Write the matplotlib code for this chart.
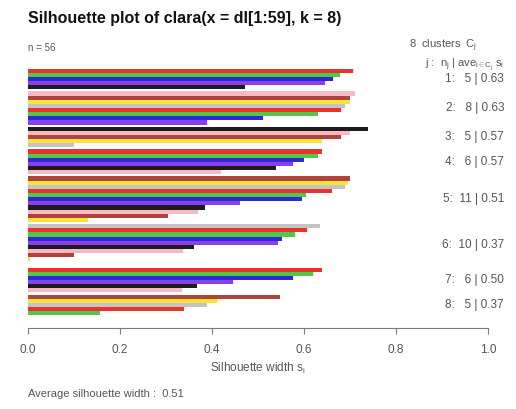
import numpy as np
import matplotlib
matplotlib.use("Agg")
import matplotlib.pyplot as plt
from matplotlib.transforms import blended_transform_factory

plt.rcParams["font.family"] = ["Liberation Sans", "DejaVu Sans"]
plt.rcParams["mathtext.fontset"] = "custom"
plt.rcParams["mathtext.rm"] = "Liberation Sans"
plt.rcParams["mathtext.it"] = "Liberation Sans"

# silhouette widths per cluster, sorted high to low within each cluster
sil_1 = [0.707, 0.678, 0.663, 0.646, 0.472]
sil_2 = [0.71, 0.70, 0.70, 0.69, 0.68, 0.63, 0.51, 0.39]
sil_3 = [0.74, 0.70, 0.68, 0.64, 0.10]
sil_4 = [0.64, 0.63, 0.60, 0.576, 0.54, 0.42]
sil_5 = [0.70, 0.696, 0.69, 0.66, 0.605, 0.595, 0.46, 0.385, 0.37, 0.305, 0.13]
sil_6 = [0.635, 0.606, 0.58, 0.552, 0.544, 0.36, 0.337, 0.10, 0.005, 0.0]
sil_7 = [0.64, 0.62, 0.577, 0.446, 0.367, 0.334]
sil_8 = [0.548, 0.41, 0.39, 0.34, 0.157]
clusters = [sil_1, sil_2, sil_3, sil_4, sil_5, sil_6, sil_7, sil_8]

bar_colors = ["#e8322c", "#52c84a", "#2a2ad6", "#8e3ee6", "#1c1c1c",
              "#f7b9c3", "#b0443a", "#f6e43c", "#c4c4c4"]

title = "Silhouette plot of clara(x = dl[1:59], k = 8)"
xticks = [0.0, 0.2, 0.4, 0.6, 0.8, 1.0]

text_col = "#555555"

fig = plt.figure(figsize=(5.16, 4.09), dpi=100)
W, H = 516, 409
y_top, y_bot = 68.6, 315.3
ax = fig.add_axes([28 / W, 1 - y_bot / H, 460 / W, (y_bot - y_top) / H])

# bar layout: unit height per bar, half-unit gap between clusters
pos, mids = 0.0, []
i = 0
for k, sil in enumerate(clusters):
    if k > 0:
        pos += 0.5
    start = pos
    for v in sil:
        ax.barh(pos + 0.5, v, height=1.0, color=bar_colors[i % len(bar_colors)],
                linewidth=0)
        pos += 1
        i += 1
    mids.append((start + pos) / 2)
total = pos

ax.set_xlim(0, 1)
ax.set_ylim(total, 0)
for s in ["top", "right", "left"]:
    ax.spines[s].set_visible(False)
ax.spines["bottom"].set_position(("outward", 9))
ax.spines["bottom"].set_bounds(0, 1)
ax.spines["bottom"].set_color("#7a7a7a")
ax.set_yticks([])
ax.set_xticks(xticks)
ax.set_xticklabels([f"{t:.1f}" for t in xticks])
ax.tick_params(axis="x", direction="out", length=4, color="#7a7a7a",
               labelsize=8.5, labelcolor=text_col, pad=8)
ax.set_xlabel("Silhouette width $s_i$", fontsize=8.5, color=text_col, labelpad=3)

fig.text(28 / W, 1 - 18 / H, title, fontsize=11.5, fontweight="bold",
         va="center", ha="left", color="#111111")
n = sum(len(c) for c in clusters)
fig.text(28 / W, 1 - 48 / H, f"n = {n}", fontsize=7, color=text_col, va="center")
fig.text(409 / W, 1 - 46 / H, f"{len(clusters)}  clusters  $C_j$", fontsize=8,
         color=text_col, va="center")
fig.text(504 / W, 1 - 65 / H, r"j :  $n_j$ | ave$_{i\in C_j}$ $s_i$", fontsize=8,
         color=text_col, va="center", ha="right")

tr = blended_transform_factory(fig.transFigure, ax.transData)
for k, (sil, m) in enumerate(zip(clusters, mids)):
    ax.text(504 / W, m, f"{k + 1}:  {len(sil):>2} | {np.mean(sil):.2f}",
            transform=tr, ha="right", va="center", fontsize=8.5, color=text_col)

avg = np.mean(np.concatenate(clusters))
fig.text(28 / W, 1 - 394 / H, f"Average silhouette width :  {avg:.2f}",
         fontsize=8, color=text_col, va="center")

fig.savefig("out.png", dpi=100)
